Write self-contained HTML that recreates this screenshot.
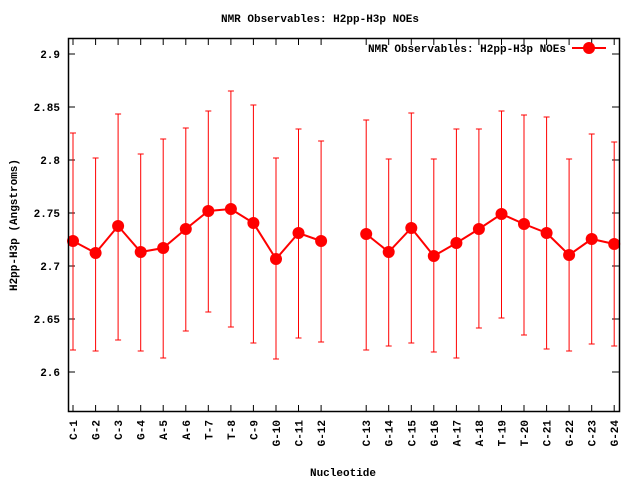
<!DOCTYPE html>
<html><head><meta charset="utf-8"><style>body{margin:0;background:#fff}svg{display:block}text{font-family:"Liberation Mono","DejaVu Sans Mono",monospace;font-weight:bold;font-size:11px;fill:#000}</style></head><body>
<svg width="640" height="480" viewBox="0 0 640 480" xmlns="http://www.w3.org/2000/svg">
<text x="320" y="22" text-anchor="middle">NMR Observables: H2pp-H3p NOEs</text>
<path stroke="#000" fill="none" d="M68 54h7M68 107h7M68 160h7M68 213h7M68 266h7M68 319h7M68 372h7M612 54h7M612 107h7M612 160h7M612 213h7M612 266h7M612 319h7M612 372h7
M73 411v-6M95.6 411v-6M118.1 411v-6M140.7 411v-6M163.2 411v-6M185.8 411v-6M208.3 411v-6M230.9 411v-6M253.4 411v-6M276 411v-6M298.5 411v-6M321.1 411v-6M366.2 411v-6M388.7 411v-6M411.3 411v-6M433.8 411v-6M456.4 411v-6M478.9 411v-6M501.5 411v-6M524 411v-6M546.6 411v-6M569.1 411v-6M591.7 411v-6M614.2 411v-6
M73 39v6M95.6 39v6M118.1 39v6M140.7 39v6M163.2 39v6M185.8 39v6M208.3 39v6M230.9 39v6M253.4 39v6M276 39v6M298.5 39v6M321.1 39v6M366.2 39v6M388.7 39v6M411.3 39v6M433.8 39v6M456.4 39v6M478.9 39v6M501.5 39v6M524 39v6M546.6 39v6M569.1 39v6M591.7 39v6M614.2 39v6"/>
<path stroke="#f00" fill="none" d="
M73 133V350M70 133h6M70 350h6
M95.6 158V351M92.6 158h6M92.6 351h6
M118.1 114V340M115.1 114h6M115.1 340h6
M140.7 154V351M137.7 154h6M137.7 351h6
M163.2 139V358M160.2 139h6M160.2 358h6
M185.8 128V331M182.8 128h6M182.8 331h6
M208.3 111V312M205.3 111h6M205.3 312h6
M230.9 91V327M227.9 91h6M227.9 327h6
M253.4 105V343M250.4 105h6M250.4 343h6
M276 158V359M273 158h6M273 359h6
M298.5 129V338M295.5 129h6M295.5 338h6
M321.1 141V342M318.1 141h6M318.1 342h6
M366.2 120V350M363.2 120h6M363.2 350h6
M388.7 159V346M385.7 159h6M385.7 346h6
M411.3 113V343M408.3 113h6M408.3 343h6
M433.8 159V352M430.8 159h6M430.8 352h6
M456.4 129V358M453.4 129h6M453.4 358h6
M478.9 129V328M475.9 129h6M475.9 328h6
M501.5 111V318M498.5 111h6M498.5 318h6
M524 115V335M521 115h6M521 335h6
M546.6 117V349M543.6 117h6M543.6 349h6
M569.1 159V351M566.1 159h6M566.1 351h6
M591.7 134V344M588.7 134h6M588.7 344h6
M614.2 142V346M611.2 142h6M611.2 346h6"/>
<polyline fill="none" stroke="#f00" stroke-width="2" points="73,241 95.6,253 118.1,226 140.7,252 163.2,248 185.8,229 208.3,211 230.9,209 253.4,223 276,259 298.5,233 321.1,241"/>
<polyline fill="none" stroke="#f00" stroke-width="2" points="366.2,234 388.7,252 411.3,228 433.8,256 456.4,243 478.9,229 501.5,214 524,224 546.6,233 569.1,255 591.7,239 614.2,244"/>
<g fill="#f00">
<circle cx="73" cy="241" r="6"/><circle cx="95.6" cy="253" r="6"/><circle cx="118.1" cy="226" r="6"/><circle cx="140.7" cy="252" r="6"/><circle cx="163.2" cy="248" r="6"/><circle cx="185.8" cy="229" r="6"/><circle cx="208.3" cy="211" r="6"/><circle cx="230.9" cy="209" r="6"/><circle cx="253.4" cy="223" r="6"/><circle cx="276" cy="259" r="6"/><circle cx="298.5" cy="233" r="6"/><circle cx="321.1" cy="241" r="6"/>
<circle cx="366.2" cy="234" r="6"/><circle cx="388.7" cy="252" r="6"/><circle cx="411.3" cy="228" r="6"/><circle cx="433.8" cy="256" r="6"/><circle cx="456.4" cy="243" r="6"/><circle cx="478.9" cy="229" r="6"/><circle cx="501.5" cy="214" r="6"/><circle cx="524" cy="224" r="6"/><circle cx="546.6" cy="233" r="6"/><circle cx="569.1" cy="255" r="6"/><circle cx="591.7" cy="239" r="6"/><circle cx="614.2" cy="244" r="6"/>
</g>
<rect x="68.5" y="38.5" width="551" height="373" fill="none" stroke="#000" stroke-width="1.5"/>
<g font-size="12">
<text x="60" y="58" text-anchor="end">2.9</text>
<text x="60" y="111" text-anchor="end">2.85</text>
<text x="60" y="164" text-anchor="end">2.8</text>
<text x="60" y="217" text-anchor="end">2.75</text>
<text x="60" y="270" text-anchor="end">2.7</text>
<text x="60" y="323" text-anchor="end">2.65</text>
<text x="60" y="376" text-anchor="end">2.6</text>
</g>
<g font-size="12" text-anchor="end">
<text transform="translate(77,420) rotate(-90)">C-1</text>
<text transform="translate(99.6,420) rotate(-90)">G-2</text>
<text transform="translate(122.1,420) rotate(-90)">C-3</text>
<text transform="translate(144.7,420) rotate(-90)">G-4</text>
<text transform="translate(167.2,420) rotate(-90)">A-5</text>
<text transform="translate(189.8,420) rotate(-90)">A-6</text>
<text transform="translate(212.3,420) rotate(-90)">T-7</text>
<text transform="translate(234.9,420) rotate(-90)">T-8</text>
<text transform="translate(257.4,420) rotate(-90)">C-9</text>
<text transform="translate(280,420) rotate(-90)">G-10</text>
<text transform="translate(302.5,420) rotate(-90)">C-11</text>
<text transform="translate(325.1,420) rotate(-90)">G-12</text>
<text transform="translate(370.2,420) rotate(-90)">C-13</text>
<text transform="translate(392.7,420) rotate(-90)">G-14</text>
<text transform="translate(415.3,420) rotate(-90)">C-15</text>
<text transform="translate(437.8,420) rotate(-90)">G-16</text>
<text transform="translate(460.4,420) rotate(-90)">A-17</text>
<text transform="translate(482.9,420) rotate(-90)">A-18</text>
<text transform="translate(505.5,420) rotate(-90)">T-19</text>
<text transform="translate(528,420) rotate(-90)">T-20</text>
<text transform="translate(550.6,420) rotate(-90)">C-21</text>
<text transform="translate(573.1,420) rotate(-90)">G-22</text>
<text transform="translate(595.7,420) rotate(-90)">C-23</text>
<text transform="translate(618.2,420) rotate(-90)">G-24</text>
</g>
<text transform="translate(17,225) rotate(-90)" text-anchor="middle">H2pp-H3p (Angstroms)</text>
<text x="343" y="476" text-anchor="middle">Nucleotide</text>
<text x="566" y="52" text-anchor="end">NMR Observables: H2pp-H3p NOEs</text>
<line x1="572" y1="48" x2="606" y2="48" stroke="#f00" stroke-width="2"/>
<circle cx="589" cy="48" r="6" fill="#f00"/>
</svg>
</body></html>
